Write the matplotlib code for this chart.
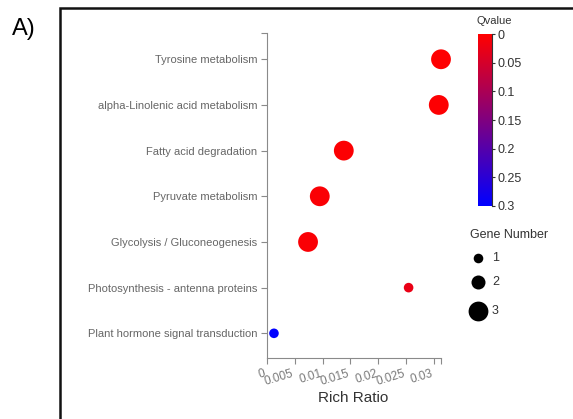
import matplotlib
matplotlib.use("Agg")
import matplotlib.pyplot as plt
import numpy as np
from matplotlib.colors import LinearSegmentedColormap, Normalize
from matplotlib.cm import ScalarMappable
from matplotlib.lines import Line2D
from matplotlib.transforms import ScaledTranslation

# KEGG enrichment results
pathways = [
    "Tyrosine metabolism",
    "alpha-Linolenic acid metabolism",
    "Fatty acid degradation",
    "Pyruvate metabolism",
    "Glycolysis / Gluconeogenesis",
    "Photosynthesis - antenna proteins",
    "Plant hormone signal transduction",
]
rich_ratio = [0.0312, 0.0308, 0.0138, 0.0095, 0.0074, 0.0254, 0.0013]
gene_number = [3, 3, 3, 3, 3, 1, 1]
qvalue = [0.002, 0.003, 0.004, 0.006, 0.006, 0.025, 0.3]

x_ticks = [0, 0.005, 0.01, 0.015, 0.02, 0.025, 0.03]
x_tick_labels = ["0", "0.005", "0.01", "0.015", "0.02", "0.025", "0.03"]
q_ticks = [0, 0.05, 0.1, 0.15, 0.2, 0.25, 0.3]
q_tick_labels = ["0", "0.05", "0.1", "0.15", "0.2", "0.25", "0.3"]
legend_counts = [1, 2, 3]

plt.rcParams["font.family"] = ["Liberation Sans", "DejaVu Sans"]

W, H, DPI = 573, 419, 100
PT = 72 / DPI  # points per pixel
fig = plt.figure(figsize=(W / DPI, H / DPI), dpi=DPI)


def box(l, t, r, b):
    """Pixel box (left, top, right, bottom) -> figure fraction rect."""
    return [l / W, 1 - b / H, (r - l) / W, (b - t) / H]


radius_px = {1: 4.8, 2: 7.0, 3: 9.9}


def marker_area(n):
    return (2 * radius_px[n] * PT) ** 2


cmap = LinearSegmentedColormap.from_list("qvalue", ["#ff0000", "#0000ff"])
norm = Normalize(vmin=0, vmax=0.3)

AXIS_GRAY = "#8a8a8a"
LABEL_GRAY = "#666666"
DARK = "#333333"

# ---- main bubble plot ----
ax = fig.add_axes(box(266.7, 33, 441, 357.7))
ypos = np.arange(len(pathways))[::-1]
ax.scatter(rich_ratio, ypos, s=[marker_area(n) for n in gene_number],
           c=qvalue, cmap=cmap, norm=norm, linewidths=0, zorder=3,
           clip_on=False)
x_max, y_lo, y_hi = 0.0312, -0.534, 6.575
ax.set_xlim(0, x_max)
ax.set_ylim(y_lo, y_hi)
ax.set_yticks(ypos, pathways)
ax.set_xticks(x_ticks, x_tick_labels)
ax.set_xticks([x_max], minor=True)
ax.set_yticks([y_hi], minor=True)
for side in ("top", "right"):
    ax.spines[side].set_visible(False)
for side in ("left", "bottom"):
    ax.spines[side].set_color(AXIS_GRAY)
    ax.spines[side].set_linewidth(0.8)
ax.tick_params(axis="both", which="both", length=6 * PT, width=0.8,
               color=AXIS_GRAY)
ax.tick_params(axis="y", pad=3.5 * PT, labelsize=8, labelcolor=LABEL_GRAY)
ax.tick_params(axis="x", pad=4 * PT, labelsize=8.5, labelcolor="#7a7a7a")
shift = ScaledTranslation(-3 / DPI, 0, fig.dpi_scale_trans)
for lbl in ax.get_xticklabels():
    lbl.set_rotation(17)
    lbl.set_ha("right")
    lbl.set_va("top")
    lbl.set_rotation_mode("anchor")
    lbl.set_transform(lbl.get_transform() + shift)

fig.text(352.8 / W, 1 - 398.3 / H, "Rich Ratio", ha="center", va="center",
         fontsize=11, color=DARK)

# ---- colour bar ----
cax = fig.add_axes(box(478.3, 34.3, 491.7, 205.7))
cb = fig.colorbar(ScalarMappable(norm=norm, cmap=cmap), cax=cax, ticks=q_ticks)
cb.ax.invert_yaxis()
cb.outline.set_visible(False)
cb.set_ticklabels(q_tick_labels)
cax.tick_params(length=3 * PT, width=0.8, color=DARK, pad=3 * PT,
                labelsize=9, labelcolor=DARK)
cax.add_line(Line2D([1, 1], [0, 1], transform=cax.transAxes, color=DARK,
                    lw=0.8, clip_on=False))
fig.text(494 / W, 1 - 21 / H, "Qvalue", ha="center", va="center",
         fontsize=8, color=DARK)

# ---- overlay in pixel coordinates: size legend, panel frame, panel tag ----
lax = fig.add_axes([0, 0, 1, 1])
lax.set_xlim(0, W)
lax.set_ylim(H, 0)
lax.axis("off")

lax.text(509, 235, "Gene Number", ha="center", va="center", fontsize=9,
         color=DARK)
y = 258.3
prev_r = None
for n in legend_counts:
    r = radius_px[n]
    if prev_r is not None:
        y += prev_r + r + 12
    lax.scatter([478], [y], s=marker_area(n), color="black", linewidths=0)
    lax.text(492, y, str(n), ha="left", va="center", fontsize=9, color=DARK)
    prev_r = r

lax.plot([60, 60, W + 5], [H + 5, 8.3, 8.3], color="#111111", lw=1.8,
         clip_on=False, solid_joinstyle="miter")
lax.text(24, 29, "A)", ha="center", va="center", fontsize=17,
         color="black")

fig.savefig("out.png", dpi=DPI)
